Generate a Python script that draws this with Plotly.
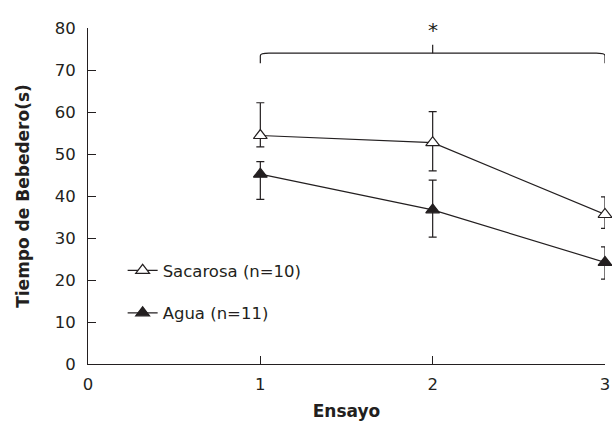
import plotly.graph_objects as go

# ---- data ----
ensayo = [1, 2, 3]
sacarosa_mean = [54.4, 52.7, 35.6]
sacarosa_plus = [7.8, 7.4, 4.2]
sacarosa_minus = [2.7, 6.7, 3.3]
agua_mean = [45.2, 36.7, 24.2]
agua_plus = [3.0, 7.1, 3.7]
agua_minus = [6.0, 6.5, 4.0]
series_names = ["Sacarosa (n=10)", "Agua (n=11)"]
y_max = 80

# significance bracket (data units)
bracket_x = [1, 3]
bracket_y = 74.0
bracket_drop = 2.4
bracket_tick = 2.0
star_y = 79.6

ink = "#231f20"
font_family = "DejaVu Sans, Liberation Sans, Arial, sans-serif"

fig = go.Figure()
fig.add_trace(go.Scatter(
    x=ensayo, y=sacarosa_mean, name=series_names[0], mode="lines+markers",
    legendgroup="s",
    line=dict(color=ink, width=1.2),
    marker=dict(symbol="triangle-up", size=12, color="white", line=dict(color=ink, width=1.2)),
    error_y=dict(type="data", symmetric=False, array=sacarosa_plus, arrayminus=sacarosa_minus,
                 color=ink, thickness=1.2, width=4),
    cliponaxis=False,
))
fig.add_trace(go.Scatter(
    x=ensayo, y=agua_mean, name=series_names[1], mode="lines+markers",
    legendgroup="a",
    line=dict(color=ink, width=1.2),
    marker=dict(symbol="triangle-up", size=12, color=ink, line=dict(color=ink, width=1.2)),
    error_y=dict(type="data", symmetric=False, array=agua_plus, arrayminus=agua_minus,
                 color=ink, thickness=1.2, width=4),
    cliponaxis=False,
))

# bracket
x0, x1 = bracket_x
xm = (x0 + x1) / 2
r = 0.05
path = (f"M {x0},{bracket_y - bracket_drop} L {x0},{bracket_y - 0.6} "
        f"Q {x0},{bracket_y} {x0 + r},{bracket_y} L {x1 - r},{bracket_y} "
        f"Q {x1},{bracket_y} {x1},{bracket_y - 0.6} L {x1},{bracket_y - bracket_drop}")
fig.add_shape(type="path", path=path, xref="x", yref="y", line=dict(color=ink, width=1.2))
fig.add_shape(type="line", x0=xm, x1=xm, y0=bracket_y, y1=bracket_y + bracket_tick,
              xref="x", yref="y", line=dict(color=ink, width=1.2))
fig.add_annotation(x=xm, y=star_y / y_max, text="*", showarrow=False, xref="x", yref="paper",
                   yanchor="middle", font=dict(size=20, color=ink, family=font_family))

fig.update_layout(
    width=612, height=421,
    margin=dict(l=88, r=7, t=28, b=57),
    paper_bgcolor="white", plot_bgcolor="white",
    font=dict(family=font_family, size=16.5, color=ink),
    showlegend=True,
    legend=dict(x=0.067, y=0.33, xanchor="left", yanchor="top",
                traceorder="grouped", tracegroupgap=18,
                font=dict(size=16.5, color=ink), bgcolor="rgba(0,0,0,0)", itemwidth=30),
    xaxis=dict(range=[0, 3], tickvals=[0, 1, 2, 3], ticks="inside", ticklen=8,
               tickcolor=ink, tickwidth=1, showline=True, linecolor=ink, linewidth=1,
               showgrid=False, zeroline=False, ticklabelstandoff=5, automargin=False,
               title=dict(text="<b>Ensayo</b>", standoff=14, font=dict(size=17))),
    yaxis=dict(range=[0, y_max], tickvals=list(range(0, 81, 10)), ticks="inside", ticklen=8,
               tickcolor=ink, tickwidth=1, showline=True, linecolor=ink, linewidth=1,
               showgrid=False, zeroline=False, ticklabelstandoff=8, automargin=False,
               title=dict(text="<b>Tiempo de Bebedero(s)</b>", standoff=20, font=dict(size=17))),
)

fig.write_html("out.html", config={"displayModeBar": False},
               post_script="document.body.style.margin='0';document.body.style.overflow='hidden';")
